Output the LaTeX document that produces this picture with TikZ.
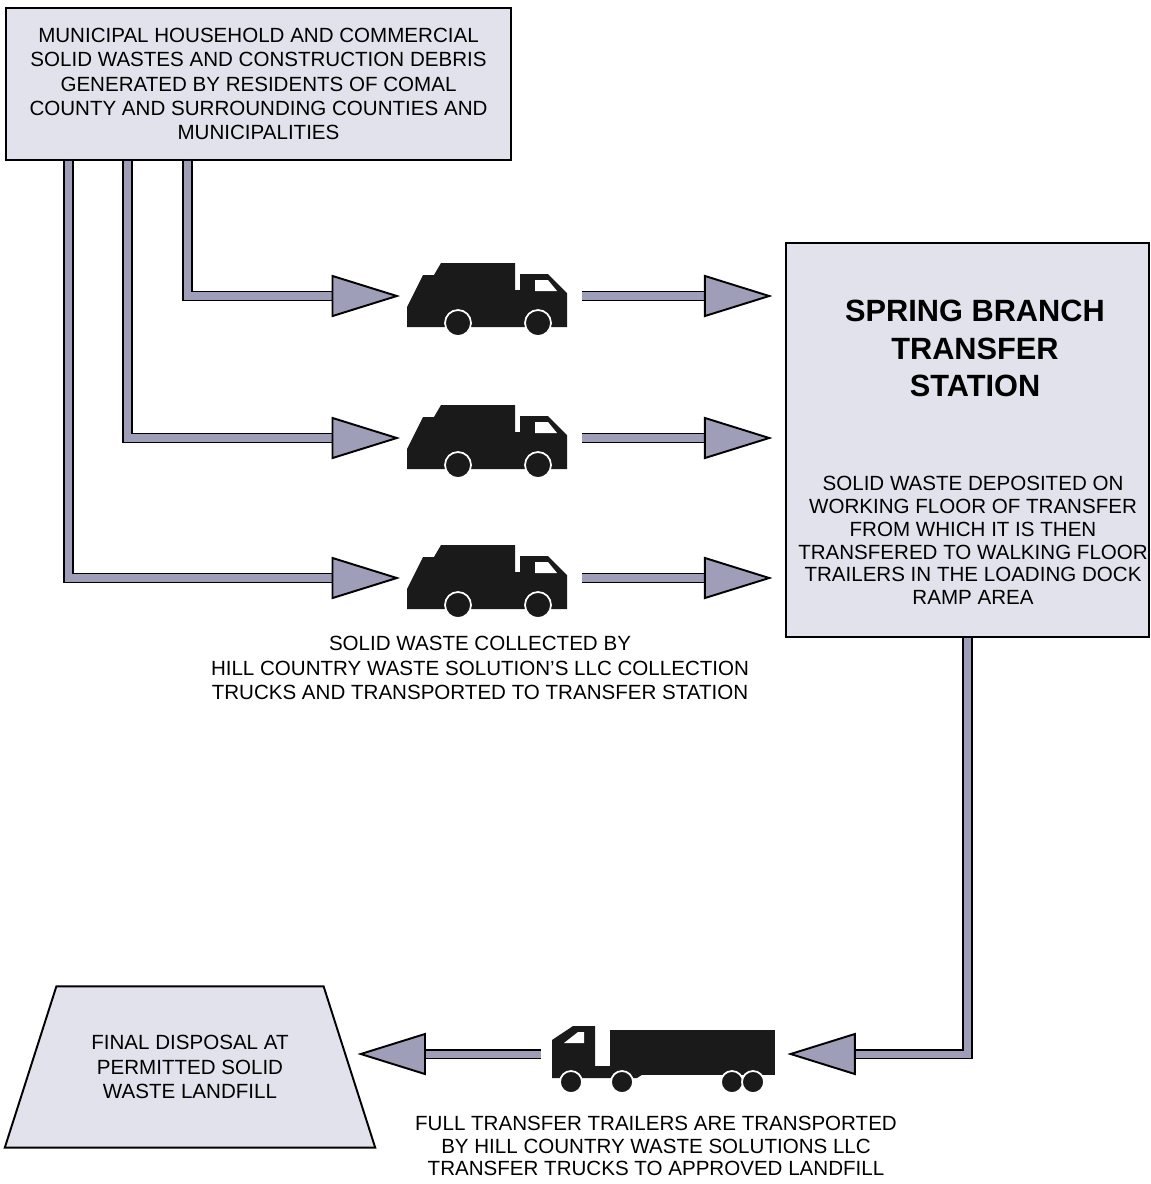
\documentclass[tikz,border=0pt]{standalone}
\usepackage{fontspec}
\setmainfont{Liberation Sans}
\usetikzlibrary{arrows.meta,calc,shapes.geometric}
\definecolor{boxgray}{RGB}{226,226,236}
\definecolor{flowgray}{RGB}{158,158,184}
\definecolor{truckblack}{RGB}{26,26,26}

\tikzset{
  collector/.pic={
    \fill[truckblack] (-79,31) -- (-79,11) -- (-63,-21) -- (-52,-21) -- (-45,-33)
      -- (29,-33) -- (29,-6) -- (34,-6) -- (34,-22) -- (62,-22) -- (81,-3) -- (81,31) -- cycle;
    \fill[white] (49,-16) -- (62,-16) -- (71,-5) -- (49,-5) -- cycle;
    \foreach \wx in {-28,52}
      \draw[wheel] (\wx,27) circle (13);
  },
  semitruck/.pic={
    \fill[truckblack] (-112,24) -- (-112,-14) -- (-91,-28) -- (-69,-28) -- (-69,12)
      -- (-16,12) -- (-16,17) -- (-27,24) -- cycle;
    \fill[truckblack] (-54,-24) rectangle (111,21);
    \fill[white] (-100,-11) -- (-86,-22) -- (-80,-22) -- (-80,-11) -- cycle;
    \foreach \wx in {-93,-42,68,89}
      \draw[wheel] (\wx,28) circle (11);
  }
}

\begin{document}
\begin{tikzpicture}
[x=0.02cm,y=-0.02cm,
 box/.style={draw=black,line width=1.1pt,fill=boxgray,inner sep=0pt},
 txt/.style={align=center,font=\fontsize{11.7}{13.9}\selectfont},
 flow/.style={draw=black,line width=1.1pt,double=flowgray,double distance=4pt,
   -{Triangle[length=39pt,width=24pt,fill=flowgray,line width=1.1pt]}},
 truck/.style={inner sep=0pt,outer sep=3pt,minimum width=91.8pt,minimum height=42pt},
 wheel/.style={fill=truckblack,draw=white,line width=1pt}]

  \useasboundingbox (0,0) rectangle (1151,1184);

  % sources and station
  \node[box,txt,minimum width=287.4pt,minimum height=86.2pt] (src) at (258.5,84)
    {MUNICIPAL HOUSEHOLD AND COMMERCIAL\\SOLID WASTES AND CONSTRUCTION DEBRIS\\GENERATED BY RESIDENTS OF COMAL\\COUNTY AND SURROUNDING COUNTIES AND\\MUNICIPALITIES};
  \node[box,minimum width=206.9pt,minimum height=224.5pt] (stn) at (967.5,440) {};
  \node[align=center,font=\fontsize{17.5}{21.3}\selectfont\bfseries] (stitle) at (975,348.5)
    {SPRING BRANCH\\TRANSFER\\STATION};
  \node[align=center,font=\fontsize{11.7}{13}\selectfont] (sbody) at (973,540.5)
    {SOLID WASTE DEPOSITED ON\\WORKING FLOOR OF TRANSFER\\FROM WHICH IT IS THEN\\TRANSFERED TO WALKING FLOOR\\TRAILERS IN THE LOADING DOCK\\RAMP AREA};
  \node[box,txt,trapezium,trapezium angle=59,trapezium stretches=true,
    minimum width=210.9pt,minimum height=91.8pt] (lf) at (190,1067)
    {FINAL DISPOSAL AT\\PERMITTED SOLID\\WASTE LANDFILL};

  % trucks
  \node[truck] (t1) at (486,296) {};
  \node[truck] (t2) at (486,438) {};
  \node[truck] (t3) at (486,578) {};
  \node[truck,minimum width=126.4pt,minimum height=37.4pt] (semi) at (664,1054) {};
  \foreach \t in {t1,t2,t3}
    \pic at (\t) {collector};
  \pic at (semi) {semitruck};

  \node[txt] (cap1) at (480,668)
    {SOLID WASTE COLLECTED BY\\HILL COUNTRY WASTE SOLUTION'S LLC COLLECTION\\TRUCKS AND TRANSPORTED TO TRANSFER STATION};
  \node[align=center,font=\fontsize{11.7}{12.6}\selectfont] (cap2) at (656,1146)
    {FULL TRANSFER TRAILERS ARE TRANSPORTED\\BY HILL COUNTRY WASTE SOLUTIONS LLC\\TRANSFER TRUCKS TO APPROVED LANDFILL};

  % flows
  \foreach \dx/\t in {182/t1, 122/t2, 63/t3}
    \draw[flow] ($(src.south west)+(\dx,0)$) |- (\t);
  \foreach \t in {t1,t2,t3}
    \draw[flow,shorten <=5.7pt,shorten >=7pt] (\t) -- (\t -| stn.west);
  \draw[flow,shorten >=4pt] (stn.south) |- (semi);
  \draw[flow,shorten <=4pt,shorten >=4pt] (semi) -- (semi -| lf.east);

\end{tikzpicture}
\end{document}
